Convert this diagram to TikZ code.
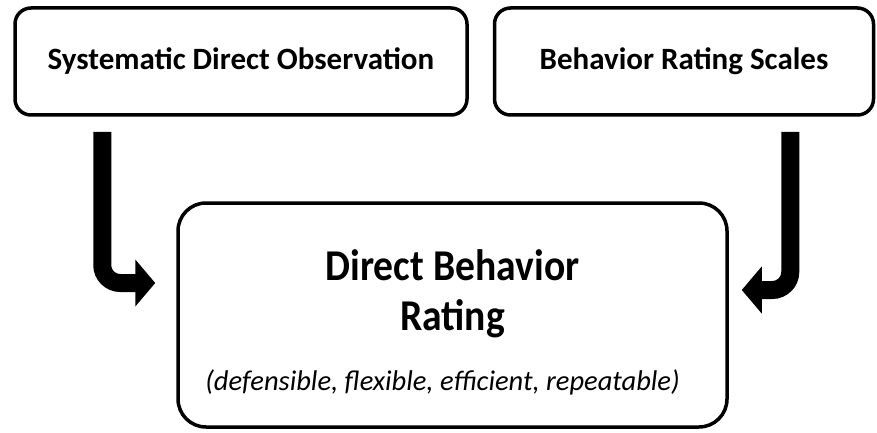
\documentclass[tikz,border=0pt]{standalone}
\usepackage{fontspec}
\setmainfont{Carlito}
\usetikzlibrary{arrows.meta,calc}
\begin{document}
\begin{tikzpicture}[x=1pt,y=-1pt,
  box/.style={draw=black,line width=3.5pt,rounded corners=16pt,fill=white,inner sep=0pt,font=\bfseries},
  toptext/.style={font=\bfseries\fontsize{31}{36}\selectfont},
  bigtext/.style={anchor=base,inner sep=0pt,font=\bfseries\fontsize{44}{52}\selectfont},
  subtext/.style={anchor=base,inner sep=0pt,font=\itshape\fontsize{28.5}{34}\selectfont},
  bigarrow/.style={draw=black,line width=18pt,rounded corners=18pt,line cap=butt,
    -{Triangle[length=20pt,width=46pt]}}]
\useasboundingbox (0,0) rectangle (877,433);
\node[box,minimum width=452pt,minimum height=107pt,toptext] (sdo) at (241,61.5) {Systematic Direct Observation};
\node[box,minimum width=379pt,minimum height=107pt,toptext] (brs) at (684,61.5) {Behavior Rating Scales};
\node[box,rounded corners=28pt,minimum width=549pt,minimum height=224pt] (dbr) at (452.5,315) {};
\node[bigtext] (t1) at (452.5,280) {\scalebox{0.9}[1]{Direct Behavior}};
\node[bigtext] (t2) at (452.5,330) {\scalebox{0.9}[1]{Rating}};
\node[subtext] (t3) at (442.5,390) {(defensible, flexible, efficient, repeatable)};
\draw[bigarrow] ($(sdo.south west)+(89,15)$) |- ($(dbr.west)+(-21,-32)$);
\draw[bigarrow] ($(brs.south east)+(-85,15)$) |- ($(dbr.east)+(13,-25)$);
\end{tikzpicture}
\end{document}
